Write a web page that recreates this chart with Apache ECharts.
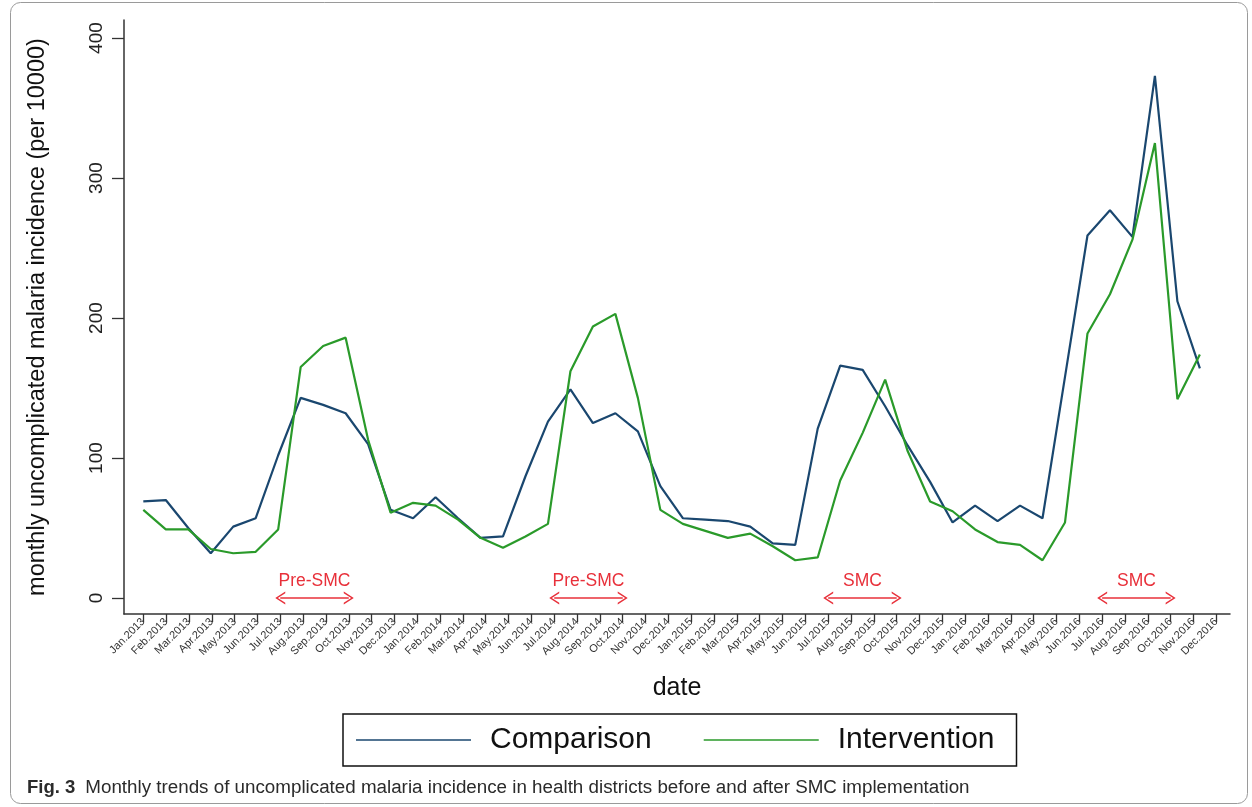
<!DOCTYPE html>
<html>
<head>
<meta charset="utf-8">
<title>Monthly uncomplicated malaria incidence</title>
<script src="https://cdn.jsdelivr.net/npm/echarts@6/dist/echarts.min.js"></script>
<style>
  html, body { margin: 0; padding: 0; background: #fff; }
  #main { width: 1252px; height: 807px; }
</style>
</head>
<body>
<div id="main"></div>
<script>
// Month labels shown along the date axis
const months = [
  'Jan.2013','Feb.2013','Mar.2013','Apr.2013','May.2013','Jun.2013','Jul.2013','Aug.2013','Sep.2013','Oct.2013','Nov.2013','Dec.2013',
  'Jan.2014','Feb.2014','Mar.2014','Apr.2014','May.2014','Jun.2014','Jul.2014','Aug.2014','Sep.2014','Oct.2014','Nov.2014','Dec.2014',
  'Jan.2015','Feb.2015','Mar.2015','Apr.2015','May.2015','Jun.2015','Jul.2015','Aug.2015','Sep.2015','Oct.2015','Nov.2015','Dec.2015',
  'Jan.2016','Feb.2016','Mar.2016','Apr.2016','May.2016','Jun.2016','Jul.2016','Aug.2016','Sep.2016','Oct.2016','Nov.2016','Dec.2016'
];

// Monthly incidence per 10000, comparison districts
const comparison = [
  69, 70, 50, 32, 51, 57, 102, 143, 138, 132, 110, 63,
  57, 72, 57, 43, 44, 87, 126, 149, 125, 132, 119, 80,
  57, 56, 55, 51, 39, 38, 121, 166, 163, 137, 109, 83,
  54, 66, 55, 66, 57, 158, 259, 277, 258, 373, 212, 164
];

// Monthly incidence per 10000, intervention districts
const intervention = [
  63, 49, 49, 35, 32, 33, 49, 165, 180, 186, 113, 61,
  68, 66, 56, 43, 36, 44, 53, 162, 194, 203, 143, 63,
  53, 48, 43, 46, 37, 27, 29, 84, 118, 156, 105, 69,
  62, 49, 40, 38, 27, 54, 189, 217, 256, 325, 142, 174
];

// Seasonal periods marked above the date axis
const periodNames = ['Pre-SMC', 'Pre-SMC', 'SMC', 'SMC'];
const periodStart = ['Jul.2013', 'Jul.2014', 'Jul.2015', 'Jul.2016'];
const periodEnd   = ['Oct.2013', 'Oct.2014', 'Oct.2015', 'Oct.2016'];

const yTicks = [0, 100, 200, 300, 400];

const FONT = 'Liberation Sans, Arial, sans-serif';
const RED = '#e8303a';
const monthTicks = months.map((m, i) => i);

// open chevron used at both ends of the period arrows
const chevron = 'path://M0,10L5,0L10,10L8.7,10L5,2.6L1.3,10Z';

const periodLines = periodNames.map((name, k) => [
  { coord: [months.indexOf(periodStart[k]), 0], name: name },
  { coord: [months.indexOf(periodEnd[k]), 0] }
]);

const chart = echarts.init(document.getElementById('main'));

chart.setOption({
  animation: false,
  backgroundColor: '#fff',
  textStyle: { fontFamily: FONT },
  grid: { left: 124, right: 22, top: 20, bottom: 193 },
  graphic: [{
    type: 'rect',
    shape: { x: 10.5, y: 2.5, width: 1237, height: 801, r: 10 },
    style: { fill: 'none', stroke: '#9a9a9a', lineWidth: 1 },
    silent: true
  }],
  title: {
    left: 22, top: 773,
    text: '{b|Fig. 3}  {n|Monthly trends of uncomplicated malaria incidence in health districts before and after SMC implementation}',
    textStyle: {
      fontWeight: 'normal',
      rich: {
        b: { fontFamily: FONT, fontWeight: 'bold', fontSize: 18.5, color: '#2b2b2b' },
        n: { fontFamily: FONT, fontWeight: 'normal', fontSize: 18.8, color: '#2b2b2b' }
      }
    }
  },
  legend: {
    data: ['Comparison', 'Intervention'],
    left: 343, top: 714,
    orient: 'horizontal',
    itemWidth: 115, itemHeight: 14, itemGap: 52,
    padding: [11, 22, 11, 13],
    borderColor: '#111', borderWidth: 1.5,
    icon: 'path://M0,6.5H100V8H0Z',
    textStyle: { fontFamily: FONT, fontSize: 30, color: '#111', lineHeight: 28, padding: [0, 0, 0, 14] }
  },
  xAxis: [
    {
      // visible month axis
      type: 'value', min: -0.845, max: 47.6, position: 'bottom',
      name: 'date', nameLocation: 'middle', nameGap: 62,
      nameTextStyle: { fontFamily: FONT, fontSize: 25, color: '#111' },
      axisLine: { show: true, onZero: false, lineStyle: { color: '#333', width: 1.5 } },
      axisTick: { show: true, customValues: monthTicks, length: 8, lineStyle: { color: '#333', width: 1.3 } },
      axisLabel: {
        customValues: monthTicks, rotate: 45, margin: 6,
        fontFamily: FONT, fontSize: 11, color: '#333',
        formatter: v => months[Math.round(v)]
      },
      splitLine: { show: false }
    },
    {
      // month index scale used by the two incidence series
      type: 'value', min: -0.859, max: 48.34, show: false,
      axisLine: { onZero: false }, splitLine: { show: false }
    }
  ],
  yAxis: {
    type: 'value', min: -11.4, max: 412.9,
    name: 'monthly uncomplicated malaria incidence (per 10000)',
    nameLocation: 'middle', nameGap: 74, nameRotate: 90,
    nameTextStyle: { fontFamily: FONT, fontSize: 23.5, color: '#111' },
    axisLine: { show: true, onZero: false, lineStyle: { color: '#333', width: 1.5 } },
    axisTick: { show: true, customValues: yTicks, length: 12, lineStyle: { color: '#333', width: 1.3 } },
    axisLabel: { customValues: yTicks, rotate: 90, margin: 18, fontFamily: FONT, fontSize: 19, color: '#222' },
    splitLine: { show: false }
  },
  series: [
    {
      name: 'Comparison', type: 'line', xAxisIndex: 1, yAxisIndex: 0,
      data: comparison.map((v, i) => [i, v]),
      symbol: 'none', lineStyle: { color: '#1a476f', width: 2.2 }, itemStyle: { color: '#1a476f' }
    },
    {
      name: 'Intervention', type: 'line', xAxisIndex: 1, yAxisIndex: 0,
      data: intervention.map((v, i) => [i, v]),
      symbol: 'none', lineStyle: { color: '#2a9a2a', width: 2.2 }, itemStyle: { color: '#2a9a2a' }
    },
    {
      name: 'periods', type: 'line', xAxisIndex: 0, yAxisIndex: 0, data: [],
      markLine: {
        silent: true,
        symbol: [chevron, chevron],
        symbolSize: [13, 10],
        lineStyle: { color: RED, width: 1.5, type: 'solid' },
        itemStyle: { color: RED },
        label: {
          show: true, position: 'middle', distance: 8,
          formatter: p => p.name,
          fontFamily: FONT, fontSize: 17.5, color: RED
        },
        emphasis: { disabled: true },
        data: periodLines
      }
    }
  ]
});
</script>
</body>
</html>
